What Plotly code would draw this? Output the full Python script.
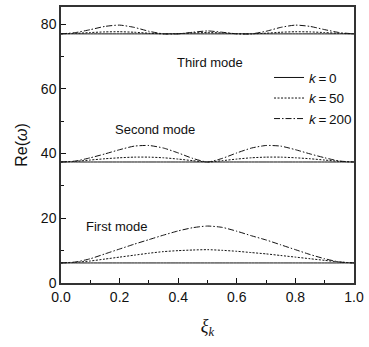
import plotly.graph_objects as go

xi = [0.00, 0.05, 0.10, 0.15, 0.20, 0.25, 0.30, 0.35, 0.40, 0.45, 0.50,
      0.55, 0.60, 0.65, 0.70, 0.75, 0.80, 0.85, 0.90, 0.95, 1.00]

# First mode
m1_k0 = [6.2] * 21
m1_k50 = [6.2, 6.4, 6.8, 7.4, 8.0, 8.6, 9.2, 9.7, 10.0, 10.2, 10.3,
          10.1, 9.8, 9.4, 9.0, 8.5, 8.0, 7.5, 7.0, 6.5, 6.2]
m1_k200 = [6.2, 6.5, 7.5, 9.0, 10.5, 12.0, 13.4, 14.8, 16.1, 17.1, 17.6,
           17.2, 16.0, 14.6, 13.3, 11.8, 10.3, 8.8, 7.5, 6.5, 6.2]

# Second mode
m2_k0 = [37.4] * 21
m2_k50 = [37.4, 37.6, 38.0, 38.4, 38.7, 38.9, 38.9, 38.7, 38.3, 37.8, 37.4,
          37.8, 38.3, 38.7, 38.9, 38.9, 38.7, 38.4, 38.0, 37.6, 37.4]
m2_k200 = [37.4, 37.7, 38.7, 39.9, 41.2, 42.3, 42.5, 41.7, 40.2, 38.5, 37.4,
           38.5, 40.2, 41.7, 42.5, 42.3, 41.2, 39.9, 38.7, 37.7, 37.4]

# Third mode
m3_k0 = [77.0] * 21
m3_k50 = [77.0, 77.15, 77.4, 77.6, 77.65, 77.5, 77.2, 77.0, 77.05, 77.3, 77.4,
          77.3, 77.05, 77.0, 77.2, 77.5, 77.65, 77.6, 77.4, 77.15, 77.0]
m3_k200 = [77.0, 77.4, 78.3, 79.3, 79.7, 79.0, 77.8, 77.0, 77.0, 77.5, 77.9,
           77.5, 77.0, 77.0, 77.8, 79.0, 79.7, 79.3, 78.3, 77.4, 77.0]

series = [
    ("<i>k</i>\u2009=\u20090", [m1_k0, m2_k0, m3_k0], "solid"),
    ("<i>k</i>\u2009=\u200950", [m1_k50, m2_k50, m3_k50], "2px,1.5px"),
    ("<i>k</i>\u2009=\u2009200", [m1_k200, m2_k200, m3_k200], "6px,2px,1.5px,2px"),
]

FONT = "Liberation Sans, Arial, sans-serif"

fig = go.Figure()
for name, modes, dash in series:
    xs, ys = [], []
    for m in modes:
        xs += xi + [None]
        ys += m + [None]
    fig.add_trace(go.Scatter(x=xs, y=ys, mode="lines", name=name,
                             line=dict(color="#111", width=1, dash=dash, shape="spline", smoothing=0.6),
                             connectgaps=False))

for text, x, y in [("Third mode", 0.51, 68.3), ("Second mode", 0.32, 47.5), ("First mode", 0.19, 17.4)]:
    fig.add_annotation(x=x, y=y, xref="x", yref="y", text=text, showarrow=False,
                       font=dict(family=FONT, size=13, color="#111"))

fig.update_layout(
    width=369, height=347,
    margin=dict(l=61, r=11, t=5, b=64),
    paper_bgcolor="white", plot_bgcolor="white",
    font=dict(family=FONT, size=14, color="#111"),
    showlegend=True,
    legend=dict(x=0.71, y=0.80, xanchor="left", yanchor="top",
                bgcolor="rgba(0,0,0,0)", font=dict(size=13.5),
                tracegroupgap=0, itemwidth=30),
    xaxis=dict(range=[0, 1], tickvals=[0, 0.2, 0.4, 0.6, 0.8, 1.0],
               ticktext=["0.0", "0.2", "0.4", "0.6", "0.8", "1.0"],
               ticks="inside", ticklen=5, tickcolor="#111",
               minor=dict(dtick=0.1, ticks="inside", ticklen=3, tickcolor="#111"),
               showline=True, linecolor="#333", linewidth=1.5, mirror=True,
               showgrid=False, zeroline=False,
               title=dict(text="<i>ξ</i><sub><i>k</i></sub>", font=dict(family="Liberation Serif, Times New Roman, serif", size=18), standoff=16)),
    yaxis=dict(range=[0, 85.3], tickvals=[0, 20, 40, 60, 80],
               ticks="inside", ticklen=5, tickcolor="#111",
               minor=dict(dtick=10, ticks="inside", ticklen=3, tickcolor="#111"),
               showline=True, linecolor="#333", linewidth=1.5, mirror=True,
               showgrid=False, zeroline=False,
               title=dict(text="Re(<i>ω</i>)", font=dict(size=16), standoff=9)),
)

fig.write_html("out.html")
